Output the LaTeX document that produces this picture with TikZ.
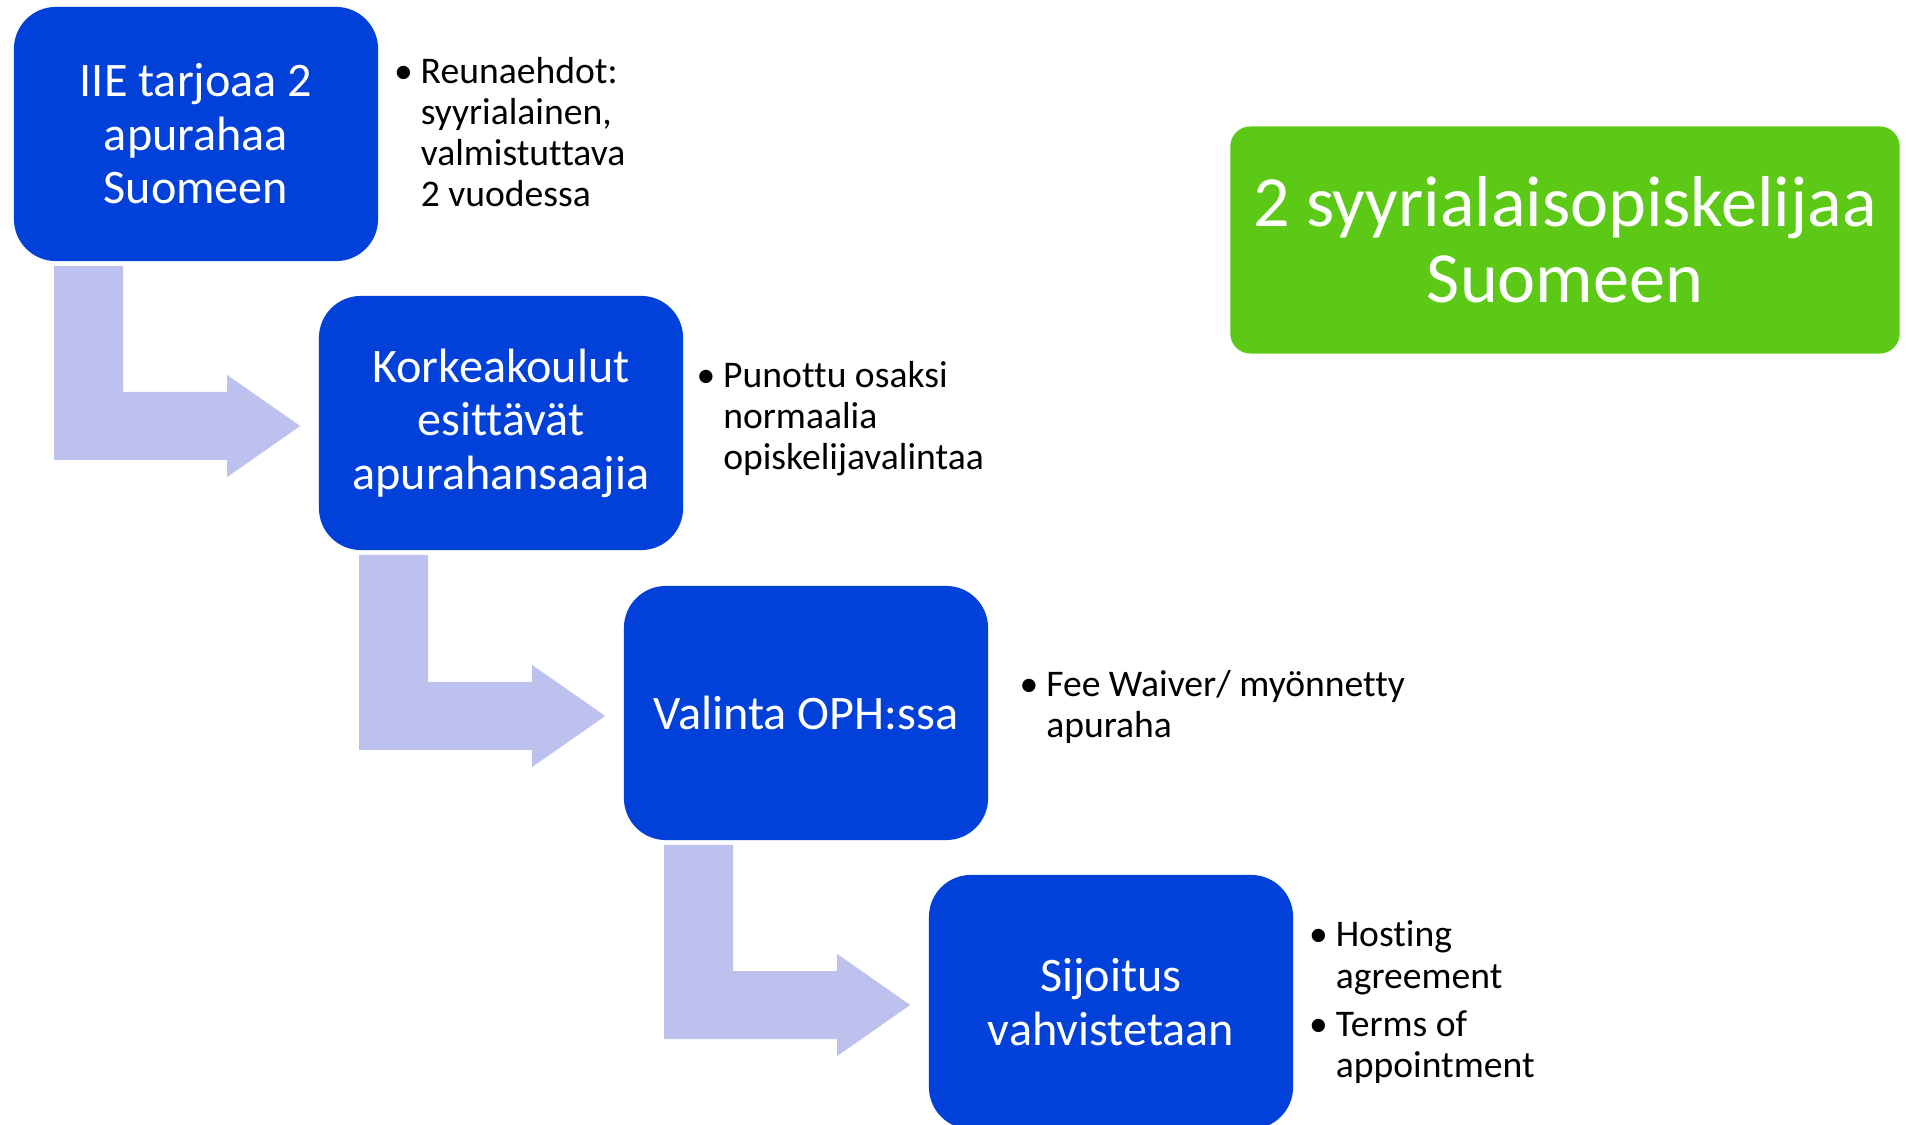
\documentclass[tikz,border=0pt]{standalone}
\usepackage{fontspec}
\setmainfont{Carlito}[Ligatures=NoCommon]
\usetikzlibrary{positioning,calc}
\definecolor{stepblue}{RGB}{2,65,217}
\definecolor{arrowlilac}{RGB}{189,193,238}
\definecolor{goalgreen}{RGB}{92,201,22}

\begin{document}
\begin{tikzpicture}[x=0.01cm,y=-0.01cm,
      stepbox/.style={rectangle,rounded corners=4.2mm,fill=stepblue,text=white,
        minimum width=36.4mm,minimum height=25.4mm,align=center,inner sep=0mm,
        font=\fontsize{13.7}{15.2}\selectfont},
      goalbox/.style={rectangle,rounded corners=2mm,fill=goalgreen,text=white,
        minimum width=66.9mm,minimum height=22.7mm,align=center,inner sep=0mm,
        font=\fontsize{20.5}{21.6}\selectfont},
      note/.style={anchor=west,inner sep=0mm,font=\fontsize{10.7}{11.7}\selectfont},
      bent/.style={fill=arrowlilac}]

  \useasboundingbox (0,0) rectangle (1906,1125);
  \clip (0,0) rectangle (1906,1125);

  \node[stepbox] (iie) at (196,134) {IIE tarjoaa 2\\apurahaa\\Suomeen};
  \node[stepbox] (kk) at (501,423) {Korkeakoulut\\esittävät\\apurahansaajia};
  \node[stepbox] (val) at (806,713) {Valinta OPH:ssa};
  \node[stepbox] (sij) at (1111,1002) {Sijoitus\\vahvistetaan};

  \node[goalbox] (goal) at (1565,240) {2 syyrialaisopiskelijaa\\Suomeen};

  \node[note,right=1.45mm of iie,yshift=-0.25mm] (n1) {\begin{tabular}{@{}l@{\hspace{0.8mm}}l@{}}
      • & Reunaehdot:\\ & syyrialainen,\\ & valmistuttava\\ & 2 vuodessa
    \end{tabular}};
  \node[note,right=1.2mm of kk,yshift=0.3mm] (n2) {\begin{tabular}{@{}l@{\hspace{0.8mm}}l@{}}
      • & Punottu osaksi\\ & normaalia\\ & opiskelijavalintaa
    \end{tabular}};
  \node[note,right=3mm of val,yshift=0.45mm] (n3) {\begin{tabular}{@{}l@{\hspace{0.8mm}}l@{}}
      • & Fee Waiver/ myönnetty\\ & apuraha
    \end{tabular}};
  \node[note,right=1.45mm of sij,yshift=-0.2mm] (n4) {\begin{tabular}{@{}l@{\hspace{0.8mm}}l@{}}
      • & Hosting\\ & agreement\\[2pt]
      • & Terms of\\ & appointment
    \end{tabular}};

  \path ($(iie.south west)+(41,4)$) coordinate (a1)
        ($(kk.west)+(-18,3)$) coordinate (t1);
  \fill[bent] (a1) -- ++(69,0) |- ($(t1)+(-73,-34)$) -- ++(0,-17) -- (t1)
    -- ++(-73,51) -- ++(0,-17) -| (a1) -- cycle;

  \path ($(kk.south west)+(41,4)$) coordinate (a2)
        ($(val.west)+(-18,3)$) coordinate (t2);
  \fill[bent] (a2) -- ++(69,0) |- ($(t2)+(-73,-34)$) -- ++(0,-17) -- (t2)
    -- ++(-73,51) -- ++(0,-17) -| (a2) -- cycle;

  \path ($(val.south west)+(41,4)$) coordinate (a3)
        ($(sij.west)+(-18,3)$) coordinate (t3);
  \fill[bent] (a3) -- ++(69,0) |- ($(t3)+(-73,-34)$) -- ++(0,-17) -- (t3)
    -- ++(-73,51) -- ++(0,-17) -| (a3) -- cycle;
\end{tikzpicture}
\end{document}
